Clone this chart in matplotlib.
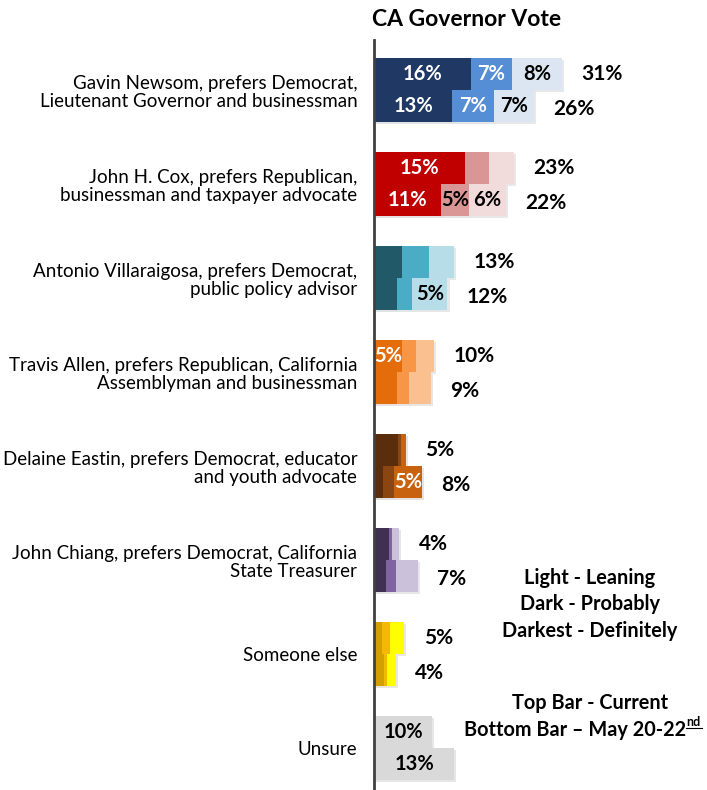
import numpy as np
import matplotlib
matplotlib.use("Agg")
import matplotlib.pyplot as plt
import matplotlib.patheffects as pe

plt.rcParams['font.family'] = ['Lato', 'DejaVu Sans']

# candidate labels, top to bottom
candidates = [
    "Gavin Newsom, prefers Democrat,\nLieutenant Governor and businessman",
    "John H. Cox, prefers Republican,\nbusinessman and taxpayer advocate",
    "Antonio Villaraigosa, prefers Democrat,\npublic policy advisor",
    "Travis Allen, prefers Republican, California\nAssemblyman and businessman",
    "Delaine Eastin, prefers Democrat, educator\nand youth advocate",
    "John Chiang, prefers Democrat, California\nState Treasurer",
    "Someone else",
    "Unsure",
]

# current poll (top bar): definitely / probably / leaning
cur_def = [16, 15, 4.6, 4.6, 4.0, 2.5, 1.3, 9.6]
cur_prob = [6.7, 4.0, 4.5, 2.3, 0.5, 0.45, 1.4, 0]
cur_lean = [8.3, 4.0, 4.1, 3.0, 0.7, 1.2, 2.3, 0]
cur_total = ["31%", "23%", "13%", "10%", "5%", "4%", "5%", ""]

# May 20-22 poll (bottom bar)
may_def = [12.9, 11, 3.8, 3.8, 1.5, 2.0, 1.7, 13.2]
may_prob = [6.8, 4.6, 2.5, 2.0, 1.8, 1.6, 0.4, 0]
may_lean = [6.6, 6.2, 5.8, 3.6, 4.6, 3.6, 1.5, 0]
may_total = ["26%", "22%", "12%", "9%", "8%", "7%", "4%", ""]

# in-bar labels: (group, bar, segment, text, color) bar 0=top 1=bottom, seg 0=def 1=prob 2=lean
inbar = [
    (0, 0, 0, "16%", "white"), (0, 0, 1, "7%", "white"), (0, 0, 2, "8%", "black"),
    (0, 1, 0, "13%", "white"), (0, 1, 1, "7%", "white"), (0, 1, 2, "7%", "black"),
    (1, 0, 0, "15%", "white"),
    (1, 1, 0, "11%", "white"), (1, 1, 1, "5%", "black"), (1, 1, 2, "6%", "black"),
    (2, 1, 2, "5%", "black"),
    (3, 0, 0, "5%", "white"),
    (4, 1, 2, "5%", "white"),
    (7, 0, 0, "10%", "black"), (7, 1, 0, "13%", "black"),
]

# colors per candidate: darkest, dark, light
colors = [
    ("#1f3864", "#558ed5", "#dce6f2"),
    ("#c00000", "#d99694", "#f2dcdb"),
    ("#215968", "#4bacc6", "#b7dee8"),
    ("#e46c0a", "#f79646", "#fac090"),
    ("#5a2d0c", "#8a4510", "#c8620f"),
    ("#403152", "#8064a2", "#ccc1da"),
    ("#d4a000", "#f5b800", "#ffff00"),
    ("#d9d9d9", "#d9d9d9", "#d9d9d9"),
]

W, H = 707, 790
fig = plt.figure(figsize=(W / 100, H / 100), dpi=100)
px = 6.07  # pixels per percent
ax_left = 374
ax = fig.add_axes([ax_left / W, 0, (W - ax_left) / W, 750 / H])
ax.set_xlim(0, (W - ax_left) / px)
spacing = 94.0
top_off = 50 / spacing
ax.set_ylim(-top_off + 750 / spacing, -top_off)

bh = 32 / spacing
shadow = [pe.SimplePatchShadow(offset=(1.5, -1.5), alpha=0.12), pe.Normal()]

for i in range(len(candidates)):
    for b, (d, p, l) in enumerate([(cur_def, cur_prob, cur_lean), (may_def, may_prob, may_lean)]):
        y = i - bh / 2 if b == 0 else i + bh / 2
        vals = [d[i], p[i], l[i]]
        left = 0
        for s in range(3):
            if vals[s] > 0:
                bar = ax.barh(y, vals[s], left=left, height=bh, color=colors[i][s], linewidth=0)
                for r in bar:
                    r.set_path_effects(shadow)
            left += vals[s]
        tot = cur_total[i] if b == 0 else may_total[i]
        if tot:
            ax.text(left + 3.2, y + (0 if b == 0 else 0.03), tot, ha='left', va='center',
                    fontsize=15, fontweight='bold', color='black')

for g, b, s, t, c in inbar:
    d, p, l = (cur_def, cur_prob, cur_lean) if b == 0 else (may_def, may_prob, may_lean)
    vals = [d[g], p[g], l[g]]
    x = sum(vals[:s]) + vals[s] / 2
    y = g - bh / 2 if b == 0 else g + bh / 2
    ax.text(x, y, t, ha='center', va='center', fontsize=14.5, fontweight='bold', color=c)

ax.set_yticks(range(len(candidates)))
ax.set_yticklabels(candidates, fontsize=13.5, linespacing=1.1)
ax.tick_params(axis='y', length=0, pad=12)
ax.set_xticks([])
for sp in ['top', 'right', 'bottom']:
    ax.spines[sp].set_visible(False)
ax.spines['left'].set_color('#404040')
ax.spines['left'].set_linewidth(2)

fig.text(467 / W, 1 - 20 / H, "CA Governor Vote", ha='center', va='center',
         fontsize=16.5, fontweight='bold')

legend_lines = [("Light - Leaning", 578), ("Dark - Probably", 604), ("Darkest - Definitely", 631),
                ("Top Bar - Current", 703)]
for t, yy in legend_lines:
    fig.text(590 / W, 1 - yy / H, t, ha='center', va='center', fontsize=14.3, fontweight='bold')
fig.text(686 / W, 1 - 730 / H, "Bottom Bar \u2013 May 20-22", ha='right', va='center',
         fontsize=14.3, fontweight='bold')
fig.text(686 / W, 1 - 722 / H, "nd", ha='left', va='center', fontsize=9, fontweight='bold')
fig.add_artist(plt.Line2D([686 / W, 702 / W], [1 - 728 / H, 1 - 728 / H], color='black', lw=0.8))

fig.savefig("out.png", dpi=100)
